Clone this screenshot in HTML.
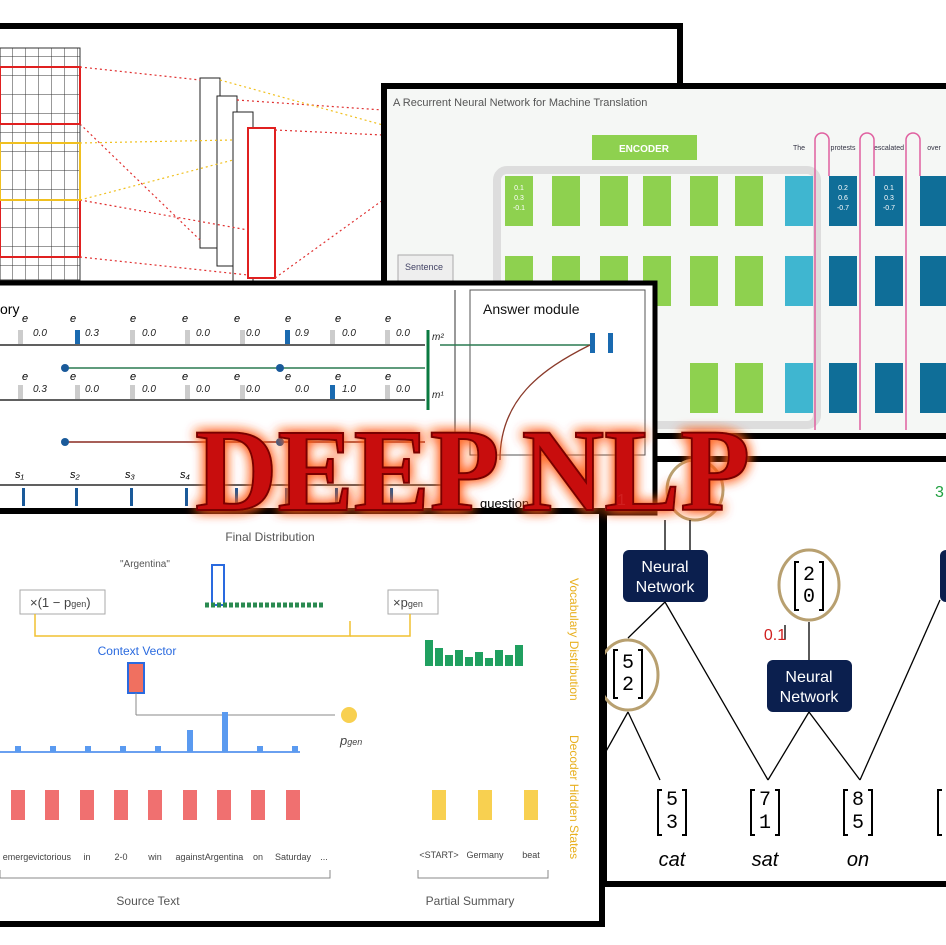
<!DOCTYPE html>
<html><head><meta charset="utf-8"><style>
html,body{margin:0;padding:0;background:#fff;width:946px;height:945px;overflow:hidden}
svg{display:block;font-family:"Liberation Sans",sans-serif}
</style></head><body>
<svg width="946" height="945" viewBox="0 0 946 945" xmlns="http://www.w3.org/2000/svg">
<defs>
<filter id="glow" x="-20%" y="-40%" width="140%" height="180%">
<feGaussianBlur in="SourceAlpha" stdDeviation="6" result="b"/>
<feFlood flood-color="#ff5a1a" flood-opacity="0.9"/>
<feComposite in2="b" operator="in" result="g"/>
<feMerge><feMergeNode in="g"/><feMergeNode in="g"/><feMergeNode in="SourceGraphic"/></feMerge>
</filter>
<pattern id="grid" width="13" height="19" patternUnits="userSpaceOnUse"><path d="M13 0V19M0 19H13" stroke="#333" stroke-width="1" fill="none"/></pattern>
</defs>

<!-- Panel 1 -->
<rect x="-10" y="26" width="690" height="262" fill="#fff" stroke="#000" stroke-width="6"/>
<rect x="0" y="48" width="80" height="232" fill="url(#grid)" stroke="#333"/>
<g fill="none" stroke="#e02020" stroke-width="2">
<rect x="0" y="67" width="80" height="57"/><rect x="0" y="200" width="80" height="57"/>
<rect x="248" y="128" width="27" height="150"/>
</g>
<rect x="0" y="143" width="80" height="57" fill="none" stroke="#f0c020" stroke-width="2"/>
<g fill="#fff" stroke="#222">
<rect x="200" y="78" width="20" height="170"/><rect x="217" y="96" width="20" height="170"/><rect x="233" y="112" width="20" height="170"/><rect x="248" y="128" width="27" height="150" stroke="#e02020" stroke-width="2"/>
</g>
<g stroke="#e03030" stroke-dasharray="2 3" stroke-width="1.2">
<line x1="80" y1="67" x2="200" y2="80"/><line x1="80" y1="124" x2="200" y2="240"/>
<line x1="80" y1="200" x2="248" y2="230"/><line x1="80" y1="257" x2="248" y2="275"/>
<line x1="275" y1="130" x2="383" y2="135"/><line x1="275" y1="278" x2="383" y2="200"/>
<line x1="237" y1="100" x2="383" y2="110"/>
</g>
<g stroke="#f0c020" stroke-dasharray="2 3" stroke-width="1.2">
<line x1="80" y1="143" x2="233" y2="140"/><line x1="80" y1="200" x2="233" y2="160"/>
<line x1="220" y1="80" x2="383" y2="125"/>
</g>

<!-- Panel 2 -->
<rect x="384" y="86" width="570" height="350" fill="#f5f7f5" stroke="#000" stroke-width="6"/>
<text x="393" y="106" font-size="11" fill="#555">A Recurrent Neural Network for Machine Translation</text>
<rect x="592" y="135" width="105" height="25" fill="#8ed14f"/>
<text x="644" y="152" font-size="10" fill="#fff" text-anchor="middle" font-weight="bold">ENCODER</text>
<rect x="497" y="170" width="320" height="255" rx="10" fill="none" stroke="#ddd" stroke-width="8"/>
<rect x="398" y="255" width="55" height="30" fill="#eee" stroke="#aaa"/>
<text x="405" y="270" font-size="9" fill="#446">Sentence</text>
<g fill="#8ed14f">
<rect x="505" y="176" width="28" height="50"/><rect x="552" y="176" width="28" height="50"/><rect x="600" y="176" width="28" height="50"/><rect x="643" y="176" width="28" height="50"/><rect x="690" y="176" width="28" height="50"/><rect x="735" y="176" width="28" height="50"/>
<rect x="505" y="256" width="28" height="50"/><rect x="552" y="256" width="28" height="50"/><rect x="600" y="256" width="28" height="50"/><rect x="643" y="256" width="28" height="50"/><rect x="690" y="256" width="28" height="50"/><rect x="735" y="256" width="28" height="50"/>
<rect x="690" y="363" width="28" height="50"/><rect x="735" y="363" width="28" height="50"/>
</g>
<g fill="#3fb6d0">
<rect x="785" y="176" width="28" height="50"/><rect x="785" y="256" width="28" height="50"/><rect x="785" y="363" width="28" height="50"/>
</g>
<g fill="#0f6e98">
<rect x="829" y="176" width="28" height="50"/><rect x="875" y="176" width="28" height="50"/><rect x="920" y="176" width="28" height="50"/>
<rect x="829" y="256" width="28" height="50"/><rect x="875" y="256" width="28" height="50"/><rect x="920" y="256" width="28" height="50"/>
<rect x="829" y="363" width="28" height="50"/><rect x="875" y="363" width="28" height="50"/><rect x="920" y="363" width="28" height="50"/>
</g>
<g font-size="7" fill="#fff" text-anchor="middle">
<text x="519" y="190">0.1</text><text x="519" y="200">0.3</text><text x="519" y="210">-0.1</text>
<text x="843" y="190">0.2</text><text x="843" y="200">0.6</text><text x="843" y="210">-0.7</text>
<text x="889" y="190">0.1</text><text x="889" y="200">0.3</text><text x="889" y="210">-0.7</text>
</g>
<g font-size="7" fill="#334" text-anchor="middle">
<text x="799" y="150">The</text><text x="843" y="150">protests</text><text x="889" y="150">escalated</text><text x="934" y="150">over</text>
</g>
<g fill="none" stroke="#e060a0" stroke-width="1.5">
<path d="M815 430V140a7 7 0 0 1 14 0V176"/><path d="M860 430V140a7 7 0 0 1 14 0V176"/><path d="M906 430V140a7 7 0 0 1 14 0V176"/>
</g>

<!-- Panel 4 -->
<rect x="604" y="459" width="350" height="425" fill="#fff" stroke="#000" stroke-width="6"/>
<g fill="#0b1f4e">
<rect x="623" y="550" width="85" height="52" rx="6"/><rect x="767" y="660" width="85" height="52" rx="6"/><rect x="940" y="550" width="20" height="52" rx="6"/>
</g>
<g fill="#fff" font-size="16" text-anchor="middle">
<text x="665" y="572">Neural</text><text x="665" y="592">Network</text>
<text x="809" y="682">Neural</text><text x="809" y="702">Network</text>
</g>
<g fill="none" stroke="#b8a070" stroke-width="3">
<ellipse cx="628" cy="675" rx="30" ry="35"/><ellipse cx="809" cy="585" rx="30" ry="35"/><ellipse cx="695" cy="490" rx="28" ry="30"/>
</g>
<g stroke="#000" stroke-width="1.3" fill="none">
<line x1="628" y1="712" x2="590" y2="780"/><line x1="628" y1="712" x2="660" y2="780"/>
<line x1="665" y1="602" x2="628" y2="638"/><line x1="665" y1="602" x2="768" y2="780"/>
<line x1="809" y1="712" x2="768" y2="780"/><line x1="809" y1="712" x2="860" y2="780"/>
<line x1="860" y1="780" x2="940" y2="600"/>
<line x1="809" y1="660" x2="809" y2="622"/><line x1="785" y1="640" x2="785" y2="625"/>
<line x1="665" y1="550" x2="665" y2="520"/><line x1="690" y1="550" x2="690" y2="520"/>
</g>
<g font-size="20" font-family="Liberation Mono,monospace" text-anchor="middle">
<text x="628" y="668">5</text><text x="628" y="690">2</text>
<text x="809" y="580">2</text><text x="809" y="602">0</text>
<text x="672" y="805">5</text><text x="672" y="828">3</text>
<text x="765" y="805">7</text><text x="765" y="828">1</text>
<text x="858" y="805">8</text><text x="858" y="828">5</text>
</g>
<g fill="none" stroke="#000" stroke-width="2">
<path d="M662 790h-4v45h4M682 790h4v45h-4"/><path d="M755 790h-4v45h4M775 790h4v45h-4"/><path d="M848 790h-4v45h4M868 790h4v45h-4"/><path d="M942 790h-4v45h4"/>
<path d="M618 650h-4v48h4M638 650h4v48h-4"/><path d="M799 562h-4v48h4M819 562h4v48h-4"/>
</g>
<g font-size="20" font-style="italic" text-anchor="middle"><text x="672" y="866">cat</text><text x="765" y="866">sat</text><text x="858" y="866">on</text></g>
<text x="775" y="640" font-size="16" fill="#d02020" text-anchor="middle">0.1</text>
<text x="935" y="497" font-size="16" fill="#20a040">3</text>

<!-- Panel 3 -->
<rect x="-10" y="283" width="665" height="230" fill="#fff" stroke="#000" stroke-width="5"/>
<line x1="455" y1="290" x2="455" y2="455" stroke="#333"/>
<rect x="470" y="290" width="175" height="165" fill="none" stroke="#555"/>
<text x="483" y="314" font-size="14" fill="#111">Answer module</text>
<text x="0" y="314" font-size="14">ory</text>
<g stroke="#000" stroke-width="1.2">
<line x1="0" y1="345" x2="425" y2="345"/><line x1="0" y1="400" x2="425" y2="400"/><line x1="0" y1="485" x2="455" y2="485"/>
</g>
<line x1="428" y1="330" x2="428" y2="410" stroke="#0a7a40" stroke-width="3"/>
<line x1="440" y1="345" x2="590" y2="345" stroke="#2a7a50" stroke-width="1.5"/>
<line x1="65" y1="368" x2="425" y2="368" stroke="#2a7a50" stroke-width="1.5"/>
<line x1="65" y1="442" x2="425" y2="442" stroke="#8a2a20" stroke-width="1.5"/>
<g fill="#ccc"><rect x="18" y="330" width="5" height="14"/><rect x="130" y="330" width="5" height="14"/><rect x="185" y="330" width="5" height="14"/><rect x="240" y="330" width="5" height="14"/><rect x="330" y="330" width="5" height="14"/><rect x="385" y="330" width="5" height="14"/>
<rect x="18" y="385" width="5" height="14"/><rect x="75" y="385" width="5" height="14"/><rect x="130" y="385" width="5" height="14"/><rect x="185" y="385" width="5" height="14"/><rect x="240" y="385" width="5" height="14"/><rect x="385" y="385" width="5" height="14"/></g>
<g fill="#1a6ab0"><rect x="75" y="330" width="5" height="14"/><rect x="285" y="330" width="5" height="14"/><rect x="330" y="385" width="5" height="14"/><rect x="590" y="333" width="5" height="20"/><rect x="608" y="333" width="5" height="20"/></g>
<g fill="#1a5a9a"><circle cx="65" cy="368" r="4"/><circle cx="280" cy="368" r="4"/><circle cx="65" cy="442" r="4"/><circle cx="280" cy="442" r="4"/></g>
<g font-size="10" font-style="italic" fill="#222">
<text x="33" y="336">0.0</text><text x="85" y="336">0.3</text><text x="142" y="336">0.0</text><text x="196" y="336">0.0</text><text x="246" y="336">0.0</text><text x="295" y="336">0.9</text><text x="342" y="336">0.0</text><text x="396" y="336">0.0</text>
<text x="33" y="392">0.3</text><text x="85" y="392">0.0</text><text x="142" y="392">0.0</text><text x="196" y="392">0.0</text><text x="246" y="392">0.0</text><text x="295" y="392">0.0</text><text x="342" y="392">1.0</text><text x="396" y="392">0.0</text>
<text x="432" y="340">m²</text><text x="432" y="398">m¹</text>
</g>
<g font-size="11" font-style="italic"><text x="22" y="322">e</text><text x="70" y="322">e</text><text x="130" y="322">e</text><text x="182" y="322">e</text><text x="234" y="322">e</text><text x="285" y="322">e</text><text x="335" y="322">e</text><text x="385" y="322">e</text>
<text x="22" y="380">e</text><text x="70" y="380">e</text><text x="130" y="380">e</text><text x="182" y="380">e</text><text x="234" y="380">e</text><text x="285" y="380">e</text><text x="335" y="380">e</text><text x="385" y="380">e</text>
<text x="15" y="478">s₁</text><text x="70" y="478">s₂</text><text x="125" y="478">s₃</text><text x="180" y="478">s₄</text></g>
<g fill="#1a5a9a"><rect x="22" y="488" width="3" height="18"/><rect x="75" y="488" width="3" height="18"/><rect x="130" y="488" width="3" height="18"/><rect x="185" y="488" width="3" height="18"/><rect x="235" y="488" width="3" height="18"/><rect x="285" y="488" width="3" height="18"/><rect x="335" y="488" width="3" height="18"/><rect x="390" y="488" width="3" height="18"/></g>
<path d="M500 460C500 400 540 370 590 345" fill="none" stroke="#8a3a2a" stroke-width="1.3"/>
<text x="480" y="508" font-size="13">question</text>

<!-- Panel 5 -->
<rect x="-10" y="511" width="612" height="413" fill="#fff" stroke="#000" stroke-width="6"/>
<text x="270" y="541" font-size="12" fill="#555" text-anchor="middle">Final Distribution</text>
<text x="120" y="567" font-size="10" fill="#555">"Argentina"</text>
<rect x="212" y="565" width="12" height="40" fill="#fff" stroke="#2a6adf" stroke-width="2"/>
<path d="M205 605h120" stroke="#2a8a50" stroke-width="5" stroke-dasharray="4 2"/>
<rect x="20" y="590" width="85" height="24" fill="#fff" stroke="#aaa"/>
<text x="30" y="607" font-size="13" fill="#444">×(1 − p<tspan font-size="9">gen</tspan>)</text>
<rect x="388" y="590" width="50" height="24" fill="#fff" stroke="#aaa"/>
<text x="393" y="607" font-size="13" fill="#444">×p<tspan font-size="9">gen</tspan></text>
<path d="M35 614v22h315v-15" fill="none" stroke="#f0c030" stroke-width="1.5"/>
<path d="M410 614v22h-60" fill="none" stroke="#f0c030" stroke-width="1.5"/>
<g fill="#20a060">
<rect x="425" y="640" width="8" height="26"/><rect x="435" y="648" width="8" height="18"/><rect x="445" y="655" width="8" height="11"/><rect x="455" y="650" width="8" height="16"/><rect x="465" y="657" width="8" height="9"/><rect x="475" y="652" width="8" height="14"/><rect x="485" y="658" width="8" height="8"/><rect x="495" y="650" width="8" height="16"/><rect x="505" y="655" width="8" height="11"/><rect x="515" y="645" width="8" height="21"/>
</g>
<text x="528" y="620" font-size="12" fill="#e8b020" transform="rotate(90 570 620)">Vocabulary Distribution</text>
<text x="565" y="740" font-size="12" fill="#e8b020" transform="rotate(90 570 740)">Decoder Hidden States</text>
<text x="137" y="655" font-size="12" fill="#2a6adf" text-anchor="middle">Context Vector</text>
<rect x="128" y="663" width="16" height="30" fill="#f07060" stroke="#2a6adf" stroke-width="2"/>
<line x1="136" y1="693" x2="136" y2="715" stroke="#888"/><line x1="136" y1="715" x2="335" y2="715" stroke="#888"/>
<circle cx="349" cy="715" r="8" fill="#f8d050"/>
<text x="340" y="745" font-size="13" font-style="italic" fill="#444">p<tspan font-size="9">gen</tspan></text>
<line x1="0" y1="752" x2="300" y2="752" stroke="#6aa0f0" stroke-width="2"/>
<g fill="#5a9af0"><rect x="187" y="730" width="6" height="22"/><rect x="222" y="712" width="6" height="40"/><rect x="15" y="746" width="6" height="6"/><rect x="50" y="746" width="6" height="6"/><rect x="85" y="746" width="6" height="6"/><rect x="120" y="746" width="6" height="6"/><rect x="155" y="746" width="6" height="6"/><rect x="257" y="746" width="6" height="6"/><rect x="292" y="746" width="6" height="6"/></g>
<g fill="#f07070"><rect x="11" y="790" width="14" height="30"/><rect x="45" y="790" width="14" height="30"/><rect x="80" y="790" width="14" height="30"/><rect x="114" y="790" width="14" height="30"/><rect x="148" y="790" width="14" height="30"/><rect x="183" y="790" width="14" height="30"/><rect x="217" y="790" width="14" height="30"/><rect x="251" y="790" width="14" height="30"/><rect x="286" y="790" width="14" height="30"/></g>
<g fill="#f8d050"><rect x="432" y="790" width="14" height="30"/><rect x="478" y="790" width="14" height="30"/><rect x="524" y="790" width="14" height="30"/></g>
<g font-size="9" fill="#444" text-anchor="middle"><text x="18" y="860">emerge</text><text x="52" y="860">victorious</text><text x="87" y="860">in</text><text x="121" y="860">2-0</text><text x="155" y="860">win</text><text x="190" y="860">against</text><text x="224" y="860">Argentina</text><text x="258" y="860">on</text><text x="293" y="860">Saturday</text><text x="324" y="860">...</text>
<text x="439" y="858">&lt;START&gt;</text><text x="485" y="858">Germany</text><text x="531" y="858">beat</text></g>
<path d="M0 870v8h330v-8M418 870v8h130v-8" fill="none" stroke="#888"/>
<text x="148" y="905" font-size="12" fill="#555" text-anchor="middle">Source Text</text>
<text x="470" y="905" font-size="12" fill="#555" text-anchor="middle">Partial Summary</text>

<!-- Title -->
<text x="195" y="510" font-family="Liberation Serif,serif" font-weight="bold" font-size="118" fill="#c81010" stroke="#7a0000" stroke-width="2" textLength="555" lengthAdjust="spacingAndGlyphs" filter="url(#glow)">DEEP NLP</text>
<text x="617" y="505" font-size="16" fill="#d02020">1</text>
</svg>
</body></html>
